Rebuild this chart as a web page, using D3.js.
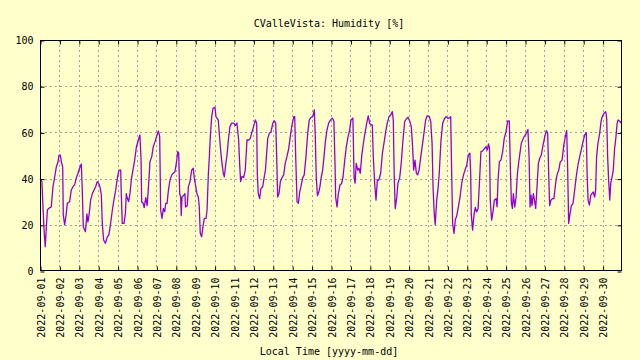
<!DOCTYPE html>
<html>
<head>
<meta charset="utf-8">
<script src="https://cdn.jsdelivr.net/npm/d3@7/dist/d3.min.js"></script>
<style>
  html, body { margin: 0; padding: 0; background: #ffffcc; }
  svg { display: block; }
  text { font-family: "DejaVu Sans Mono", "Liberation Mono", monospace; font-size: 10px; fill: #000; }
</style>
</head>
<body>
<svg id="chart" width="640" height="360"></svg>
<script>
// ---- data (time offset in days from 2022-09-01 00:00, humidity in %) ----
const chartTitle = "CValleVista: Humidity [%]";
const xAxisTitle = "Local Time [yyyy-mm-dd]";
const startDate = "2022-09-01";
const endDate = "2022-10-01";
const dayOffset = [
  0, 0.05, 0.1, 0.15, 0.21, 0.27, 0.33, 0.38, 0.45, 0.58, 0.67, 0.76, 0.84, 0.93, 0.98,
  1.05, 1.1, 1.17, 1.2, 1.27, 1.34, 1.41, 1.53, 1.61, 1.7, 1.79, 1.87, 1.96,
  2.04, 2.13, 2.18, 2.23, 2.34, 2.42, 2.47, 2.53, 2.61, 2.7, 2.78, 2.87, 2.95,
  3.02, 3.09, 3.16, 3.21, 3.28, 3.37, 3.47, 3.55, 3.64, 3.73, 3.81, 3.9, 3.99,
  4.07, 4.16, 4.19, 4.24, 4.33, 4.4, 4.45, 4.48, 4.57, 4.64, 4.71, 4.79, 4.88, 4.97,
  5.07, 5.15, 5.21, 5.24, 5.32, 5.37, 5.45, 5.52, 5.58, 5.67, 5.76, 5.84, 5.93,
  6.01, 6.1, 6.17, 6.22, 6.29, 6.36, 6.43, 6.48, 6.55, 6.62, 6.7, 6.79, 6.87, 6.96,
  7.05, 7.1, 7.15, 7.2, 7.25, 7.28, 7.32, 7.41, 7.47, 7.5, 7.59, 7.65, 7.73, 7.82, 7.9, 7.95,
  8.03, 8.09, 8.16, 8.21, 8.26, 8.33, 8.4, 8.47, 8.56, 8.61, 8.68, 8.73, 8.78, 8.85, 8.92,
  9.02, 9.07, 9.14, 9.19, 9.24, 9.31, 9.36, 9.45, 9.5, 9.57, 9.64, 9.71, 9.79, 9.88, 9.98,
  10.07, 10.15, 10.24, 10.29, 10.34, 10.41, 10.5, 10.58, 10.67, 10.76, 10.84, 10.93,
  11.01, 11.1, 11.17, 11.2, 11.25, 11.32, 11.39, 11.48, 11.55, 11.62, 11.67, 11.74, 11.82, 11.91,
  12, 12.08, 12.15, 12.2, 12.25, 12.32, 12.39, 12.47, 12.56, 12.64, 12.73, 12.82, 12.9, 12.99,
  13.08, 13.13, 13.18, 13.25, 13.32, 13.39, 13.45, 13.54, 13.62, 13.71, 13.8, 13.88, 13.97,
  14.06, 14.14, 14.19, 14.24, 14.3, 14.37, 14.43, 14.5, 14.57, 14.64, 14.71, 14.79, 14.88, 14.98,
  15.07, 15.15, 15.21, 15.24, 15.31, 15.38, 15.46, 15.55, 15.62, 15.71, 15.79, 15.88, 15.96,
  16.03, 16.13, 16.19, 16.24, 16.3, 16.38, 16.44, 16.51, 16.58, 16.67, 16.75, 16.84, 16.92, 16.99,
  17.06, 17.13, 17.18, 17.25, 17.32, 17.39, 17.47, 17.56, 17.65, 17.73, 17.82, 17.9, 17.99,
  18.08, 18.16, 18.21, 18.26, 18.31, 18.39, 18.45, 18.54, 18.62, 18.71, 18.8, 18.88, 18.97,
  19.06, 19.14, 19.21, 19.26, 19.33, 19.4, 19.47, 19.54, 19.63, 19.71, 19.79, 19.88, 19.96,
  20.07, 20.14, 20.21, 20.26, 20.32, 20.37, 20.45, 20.52, 20.58, 20.67, 20.76, 20.84, 20.93,
  21.01, 21.1, 21.17, 21.22, 21.27, 21.34, 21.41, 21.48, 21.56, 21.65, 21.74, 21.83, 21.91,
  22, 22.08, 22.16, 22.2, 22.23, 22.3, 22.37, 22.44, 22.51, 22.58, 22.65, 22.73, 22.82, 22.9, 22.99,
  23.06, 23.12, 23.17, 23.21, 23.28, 23.35, 23.42, 23.51, 23.56, 23.61, 23.68, 23.76, 23.85, 23.93,
  24.02, 24.11, 24.19, 24.24, 24.3, 24.35, 24.4, 24.47, 24.54, 24.61, 24.68, 24.74, 24.81, 24.88, 24.96,
  25.07, 25.15, 25.21, 25.26, 25.31, 25.36, 25.43, 25.5, 25.55, 25.62, 25.69, 25.76, 25.84, 25.93,
  26.02, 26.1, 26.17, 26.22, 26.27, 26.34, 26.41, 26.49, 26.58, 26.65, 26.74, 26.82, 26.91,
  27, 27.08, 27.15, 27.2, 27.25, 27.32, 27.39, 27.47, 27.56, 27.64, 27.73, 27.82, 27.9, 27.99,
  28.08, 28.16, 28.2, 28.25, 28.32, 28.39, 28.45, 28.52, 28.59, 28.64, 28.69, 28.76, 28.85, 28.92, 28.98,
  29.07, 29.16, 29.21, 29.26, 29.31, 29.37, 29.42, 29.48, 29.55, 29.62, 29.69, 29.75, 29.8, 29.88, 29.98
];
const humidity = [
  40, 39.5, 38.7, 28.3, 17.7, 10.5, 19.2, 26.4, 27.1, 27.7, 36.5, 40.8, 45, 47.3, 50.2,
  50.2, 47.3, 45, 24.2, 20, 24, 29.3, 30, 35, 36.5, 37.4, 40.3, 42.3,
  44.5, 46.3, 35, 19.2, 17, 24.7, 21.3, 24.3, 30.7, 33.5, 35, 36.5, 38.7,
  38, 36.5, 33.1, 20.6, 13.4, 12, 14.8, 15.6, 20.6, 26.4, 30.7, 35, 40.3,
  43.7, 43.7, 33.5, 20.6, 20.6, 24.7, 33.5, 32, 30, 33.8, 39.6, 43.7, 48, 53.8,
  56.7, 58.9, 48, 30, 29.3, 27.4, 31.8, 28.3, 35, 47.3, 49.5, 53.8, 56,
  58.2, 60.6, 58.2, 26.4, 22.8, 27.1, 25.7, 29.3, 29.3, 35, 39.4, 41.6, 42.3, 43,
  48, 51.7, 51, 33.5, 32, 24, 32, 32.8, 33.5, 27.7, 28.3, 36.5, 38.7, 43.7, 44.5, 40.3,
  36.5, 33.5, 32, 27.7, 16.3, 14.8, 19.2, 22.8, 22.8, 26.4, 42.3, 49.5, 58.2, 66.8, 70.4,
  70.9, 66.8, 66, 65.4, 59.6, 52.4, 48, 42.3, 40.8, 45.9, 50.2, 56.7, 62.5, 64, 64,
  63, 64, 56.7, 46.6, 38.7, 41, 40.5, 43.7, 56.7, 56.7, 57.4, 60.3,
  62.5, 65.4, 64, 42.3, 33.5, 31.3, 35.7, 36.5, 40.3, 43.7, 49.5, 57.4, 59.6, 60.3,
  64, 65, 64, 49.5, 32, 33.5, 38.7, 40.3, 41.6, 46.6, 49.5, 53, 58.2, 63.3,
  66.8, 66.8, 49.5, 30, 29.3, 34.4, 36.5, 40.3, 41.6, 49.5, 59.6, 65.4, 66.5,
  66.8, 69.7, 58.2, 40.8, 32.6, 34.2, 36.5, 40.8, 43.7, 49.5, 56, 61, 64, 65.4,
  66.2, 64.8, 45.2, 32, 27.7, 33.5, 37.2, 37.9, 40.8, 48, 53.8, 58.2, 61,
  65.4, 66.2, 40.3, 38, 46.6, 43.7, 44.5, 42.3, 49.5, 55.3, 59.6, 64, 67.2, 64,
  63.3, 63.3, 49.5, 38, 30.7, 39.4, 39.4, 42.3, 51, 55.3, 60.3, 64, 66.8,
  67.5, 69, 65.4, 40.8, 27, 32, 38, 40.3, 46.6, 56.7, 64.8, 65.8, 66.6,
  64.8, 62.5, 53, 43.7, 48, 42.3, 41.6, 43.7, 49.5, 54.5, 59.6, 65.4, 67.2,
  66.8, 64.8, 55.3, 36.5, 25, 20, 30.7, 36, 42.3, 56.7, 64, 65.8, 66.8,
  66.2, 66.2, 66.8, 42.3, 20.6, 16.3, 22.3, 23.8, 27.5, 32, 38, 41.6, 43.7,
  45.9, 50.2, 51, 42.3, 24.4, 17.7, 24.4, 27.5, 25.6, 27, 38, 51.7, 52, 52.9, 53.8,
  52.4, 55, 53, 30.7, 22, 25.6, 30.7, 31.3, 27.8, 39.4, 47.3, 48, 51.7, 57.4,
  60.3, 65, 65, 46.6, 29.3, 27.1, 33.5, 27.7, 32, 42.3, 47.3, 51, 55.3, 56.7, 58.2,
  59.6, 61.3, 49.5, 27.7, 32.8, 28.3, 33.5, 30, 27.1, 36.5, 46.6, 48.8, 50.2, 54.5,
  58.2, 60.8, 59.6, 42.3, 28.3, 30.7, 31.3, 31.3, 38, 41.6, 43.7, 47.3, 48,
  54.5, 58.2, 60.8, 43.7, 20.6, 24.7, 28.3, 29, 35, 40.8, 45.9, 49.5, 52.4, 56,
  58.9, 59.9, 42.3, 30.7, 28.5, 32.8, 33.5, 34.2, 32, 35, 49.5, 55.3, 59.6, 64.8, 66.8,
  68.3, 69, 66.2, 49.5, 39.4, 30.7, 38, 40.3, 43.7, 53, 58.2, 64, 65.4, 64.8, 64
];
const yTicks = [0, 20, 40, 60, 80, 100];
const xTickLabels = [
  "2022-09-01", "2022-09-02", "2022-09-03", "2022-09-04", "2022-09-05", "2022-09-06",
  "2022-09-07", "2022-09-08", "2022-09-09", "2022-09-10", "2022-09-11", "2022-09-12",
  "2022-09-13", "2022-09-14", "2022-09-15", "2022-09-16", "2022-09-17", "2022-09-18",
  "2022-09-19", "2022-09-20", "2022-09-21", "2022-09-22", "2022-09-23", "2022-09-24",
  "2022-09-25", "2022-09-26", "2022-09-27", "2022-09-28", "2022-09-29", "2022-09-30"
];

// ---- layout ----
const margin = { left: 40, right: 18, top: 40, bottom: 89 };
const W = 640, H = 360;
const pw = W - margin.left - margin.right;
const ph = H - margin.top - margin.bottom;

const parse = d3.utcParse("%Y-%m-%d");
const fmt = d3.utcFormat("%Y-%m-%d");
const t0 = parse(startDate);
const points = dayOffset.map((d, i) => ({ t: new Date(t0.getTime() + d * 86400000), v: humidity[i] }));

const x = d3.scaleUtc().domain([parse(startDate), parse(endDate)]).range([margin.left, margin.left + pw]);
const y = d3.scaleLinear().domain([0, 100]).range([margin.top + ph, margin.top]);
const xTickDates = xTickLabels.map(parse);

const svg = d3.select("#chart");
svg.append("rect").attr("width", W).attr("height", H).attr("fill", "#ffffcc");

// grid
const grid = svg.append("g").attr("stroke", "#a0a0a0").attr("stroke-width", 1).attr("stroke-dasharray", "2,3");
grid.selectAll("line.gy").data(yTicks.filter(v => v > 0 && v < 100)).join("line")
  .attr("x1", margin.left).attr("x2", margin.left + pw)
  .attr("y1", d => Math.round(y(d)) + 0.5).attr("y2", d => Math.round(y(d)) + 0.5);
grid.selectAll("line.gx").data(xTickDates.slice(1)).join("line")
  .attr("x1", d => Math.round(x(d)) + 0.5).attr("x2", d => Math.round(x(d)) + 0.5)
  .attr("y1", margin.top).attr("y2", margin.top + ph);

// axes
function styleAxis(g) {
  g.select(".domain").remove();
  g.selectAll(".tick line").attr("stroke", "#000");
}
const yAxisL = d3.axisLeft(y).tickValues(yTicks).tickSizeInner(-4).tickSizeOuter(0).tickPadding(7);
svg.append("g").attr("transform", `translate(${margin.left + 0.5},0.5)`).call(yAxisL).call(styleAxis)
  .call(g => g.selectAll("text").attr("dy", "0.32em"))
  .attr("font-family", null).attr("font-size", null);
const yAxisR = d3.axisRight(y).tickValues(yTicks).tickSizeInner(-4).tickSizeOuter(0).tickFormat("");
svg.append("g").attr("transform", `translate(${margin.left + pw - 0.5},0.5)`).call(yAxisR).call(styleAxis);

const xAxisB = d3.axisBottom(x).tickValues(xTickDates).tickSizeInner(-4).tickSizeOuter(0).tickFormat((d, i) => xTickLabels[i]);
svg.append("g").attr("transform", `translate(0.5,${margin.top + ph - 0.5})`).call(xAxisB).call(styleAxis)
  .attr("font-family", null).attr("font-size", null)
  .call(g => g.selectAll("text")
    .attr("transform", "rotate(-90)")
    .attr("text-anchor", "end")
    .attr("x", -7).attr("y", 0).attr("dy", "0.35em"));
const xAxisT = d3.axisTop(x).tickValues(xTickDates).tickSizeInner(-4).tickSizeOuter(0).tickFormat("");
svg.append("g").attr("transform", `translate(0.5,${margin.top + 0.5})`).call(xAxisT).call(styleAxis);

// series line
const line = d3.line().x(d => x(d.t)).y(d => y(d.v));
svg.append("path").datum(points)
  .attr("d", line)
  .attr("fill", "none")
  .attr("stroke", "#9400d3")
  .attr("stroke-width", 1.3)
  .attr("stroke-linejoin", "round");

// border
svg.append("rect")
  .attr("x", margin.left + 0.5).attr("y", margin.top + 0.5)
  .attr("width", pw - 1).attr("height", ph - 1)
  .attr("fill", "none").attr("stroke", "#000").attr("stroke-width", 1);

// titles
svg.append("text").attr("x", 329).attr("y", 27).attr("text-anchor", "middle").text(chartTitle);
svg.append("text").attr("x", 329).attr("y", 355).attr("text-anchor", "middle").text(xAxisTitle);
</script>
</body>
</html>
